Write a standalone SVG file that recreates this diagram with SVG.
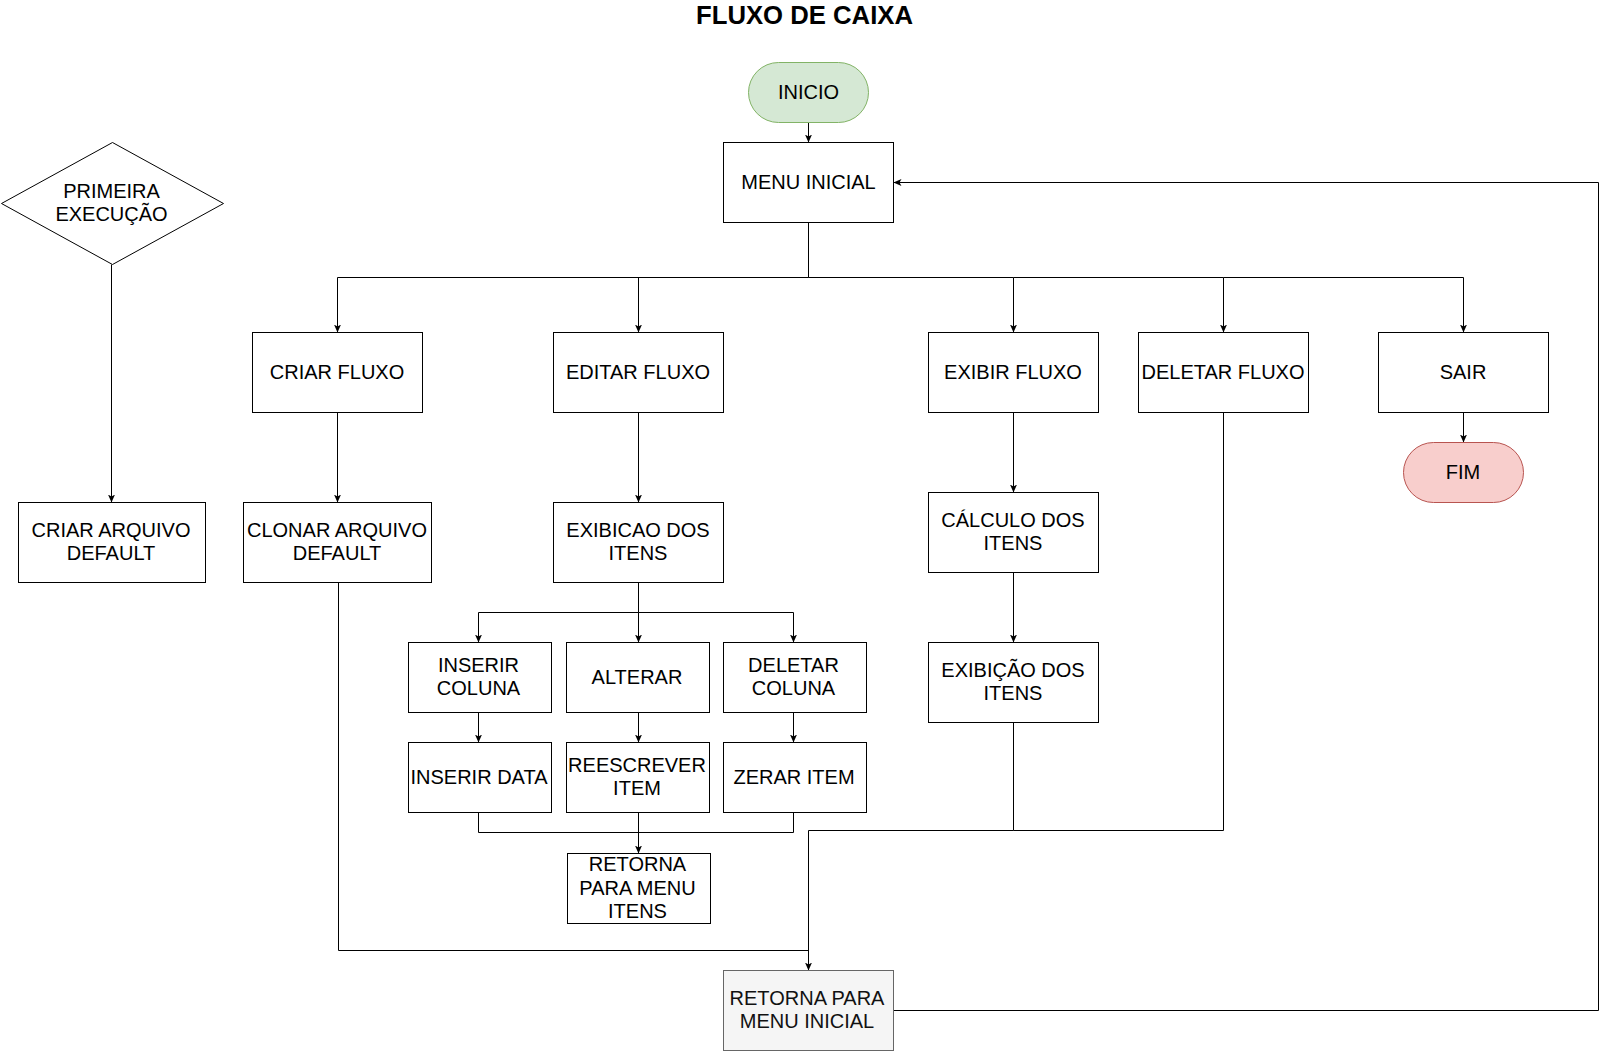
<svg xmlns="http://www.w3.org/2000/svg" width="1608" height="1051" viewBox="0 0 1608 1051">
<defs>
<style>
text{font-family:"Liberation Sans",Arial,Helvetica,sans-serif;font-size:20px;fill:#000;text-anchor:middle}
.title{font-size:25.7px;font-weight:bold}
.box{fill:#fff;stroke:#000;stroke-width:1}
.start{fill:#d5e8d4;stroke:#82b366;stroke-width:1}
.end{fill:#f8cecc;stroke:#b85450;stroke-width:1}
.gray{fill:#f5f5f5;stroke:#666;stroke-width:1}
.gtext{fill:#111}
.edge{fill:none;stroke:#000;stroke-width:1}
</style>
<marker id="arr" markerUnits="userSpaceOnUse" markerWidth="8" markerHeight="7" viewBox="0 0 8 7" refX="8" refY="3.5" orient="auto">
<path d="M0,0 L8,3.5 L0,7 L2,3.5 Z" fill="#000"/>
</marker>
</defs>
<rect width="1608" height="1051" fill="#fff"/>
<text class="title" x="804.5" y="24">FLUXO DE CAIXA</text>
<g transform="translate(0.5,0.5)">
<g id="connectors">
<path class="edge" d="M808,122 V142" marker-end="url(#arr)"/>
<path class="edge" d="M808,222 V277 H337 V332" marker-end="url(#arr)"/>
<path class="edge" d="M808,277 H638 V332" marker-end="url(#arr)"/>
<path class="edge" d="M808,277 H1013 V332" marker-end="url(#arr)"/>
<path class="edge" d="M1013,277 H1223 V332" marker-end="url(#arr)"/>
<path class="edge" d="M1223,277 H1463 V332" marker-end="url(#arr)"/>
<path class="edge" d="M111,264 V502" marker-end="url(#arr)"/>
<path class="edge" d="M337,412 V502" marker-end="url(#arr)"/>
<path class="edge" d="M638,412 V502" marker-end="url(#arr)"/>
<path class="edge" d="M638,582 V612 H478 V642" marker-end="url(#arr)"/>
<path class="edge" d="M638,612 V642" marker-end="url(#arr)"/>
<path class="edge" d="M638,612 H793 V642" marker-end="url(#arr)"/>
<path class="edge" d="M478,712 V742" marker-end="url(#arr)"/>
<path class="edge" d="M638,712 V742" marker-end="url(#arr)"/>
<path class="edge" d="M793,712 V742" marker-end="url(#arr)"/>
<path class="edge" d="M478,812 V832 H793 V812"/>
<path class="edge" d="M638,812 V853" marker-end="url(#arr)"/>
<path class="edge" d="M1013,412 V492" marker-end="url(#arr)"/>
<path class="edge" d="M1013,572 V642" marker-end="url(#arr)"/>
<path class="edge" d="M1013,722 V830 H808 V970" marker-end="url(#arr)"/>
<path class="edge" d="M1223,412 V830 H1013"/>
<path class="edge" d="M338,582 V950 H808"/>
<path class="edge" d="M1463,412 V442" marker-end="url(#arr)"/>
<path class="edge" d="M893,1010 H1598 V182 H893" marker-end="url(#arr)"/>
</g>
<g id="inicio"><rect class="start" x="748" y="62" width="120" height="60" rx="30" ry="30"/><text x="808" y="98">INICIO</text></g>
<g id="menu-inicial"><rect class="box" x="723" y="142" width="170" height="80"/><text x="808" y="188">MENU INICIAL</text></g>
<g id="primeira-execucao"><polygon class="box" points="1,203 112,142 223,203 112,264"/><text x="111" y="197">PRIMEIRA</text><text x="111" y="220.3">EXECUÇÃO</text></g>
<g id="criar-arquivo"><rect class="box" x="18" y="502" width="187" height="80"/><text x="110.5" y="536">CRIAR ARQUIVO</text><text x="110.5" y="559.3">DEFAULT</text></g>
<g id="criar-fluxo"><rect class="box" x="252" y="332" width="170" height="80"/><text x="336.5" y="378">CRIAR FLUXO</text></g>
<g id="clonar-arquivo"><rect class="box" x="243" y="502" width="188" height="80"/><text x="336.5" y="536">CLONAR ARQUIVO</text><text x="336.5" y="559.3">DEFAULT</text></g>
<g id="editar-fluxo"><rect class="box" x="553" y="332" width="170" height="80"/><text x="637.5" y="378">EDITAR FLUXO</text></g>
<g id="exibir-fluxo"><rect class="box" x="928" y="332" width="170" height="80"/><text x="1012.5" y="378">EXIBIR FLUXO</text></g>
<g id="deletar-fluxo"><rect class="box" x="1138" y="332" width="170" height="80"/><text x="1222.5" y="378">DELETAR FLUXO</text></g>
<g id="sair"><rect class="box" x="1378" y="332" width="170" height="80"/><text x="1462.5" y="378">SAIR</text></g>
<g id="fim"><rect class="end" x="1403" y="442" width="120" height="60" rx="30" ry="30"/><text x="1462.5" y="478">FIM</text></g>
<g id="exibicao-itens"><rect class="box" x="553" y="502" width="170" height="80"/><text x="637.5" y="536">EXIBICAO DOS</text><text x="637.5" y="559.3">ITENS</text></g>
<g id="calculo-itens"><rect class="box" x="928" y="492" width="170" height="80"/><text x="1012.5" y="526">CÁLCULO DOS</text><text x="1012.5" y="549.3">ITENS</text></g>
<g id="exibicao-dos-itens"><rect class="box" x="928" y="642" width="170" height="80"/><text x="1012.5" y="676">EXIBIÇÃO DOS</text><text x="1012.5" y="699.3">ITENS</text></g>
<g id="inserir-coluna"><rect class="box" x="408" y="642" width="143" height="70"/><text x="478" y="671.5">INSERIR</text><text x="478" y="694.8">COLUNA</text></g>
<g id="alterar"><rect class="box" x="566" y="642" width="143" height="70"/><text x="636.5" y="683">ALTERAR</text></g>
<g id="deletar-coluna"><rect class="box" x="723" y="642" width="143" height="70"/><text x="793" y="671.5">DELETAR</text><text x="793" y="694.8">COLUNA</text></g>
<g id="inserir-data"><rect class="box" x="408" y="742" width="143" height="70"/><text x="478.5" y="783">INSERIR DATA</text></g>
<g id="reescrever-item"><rect class="box" x="566" y="742" width="143" height="70"/><text x="636.5" y="771.5">REESCREVER</text><text x="636.5" y="794.8">ITEM</text></g>
<g id="zerar-item"><rect class="box" x="723" y="742" width="143" height="70"/><text x="793.5" y="783">ZERAR ITEM</text></g>
<g id="retorna-menu-itens"><rect class="box" x="567" y="853" width="143" height="70"/><text x="637" y="870.8">RETORNA</text><text x="637" y="894.1">PARA MENU</text><text x="637" y="917.4">ITENS</text></g>
<g id="retorna-menu-inicial"><rect class="gray" x="723" y="970" width="170" height="80"/><text class="gtext" x="806.5" y="1004.5">RETORNA PARA</text><text class="gtext" x="806.5" y="1027.8">MENU INICIAL</text></g>
</g>
</svg>
